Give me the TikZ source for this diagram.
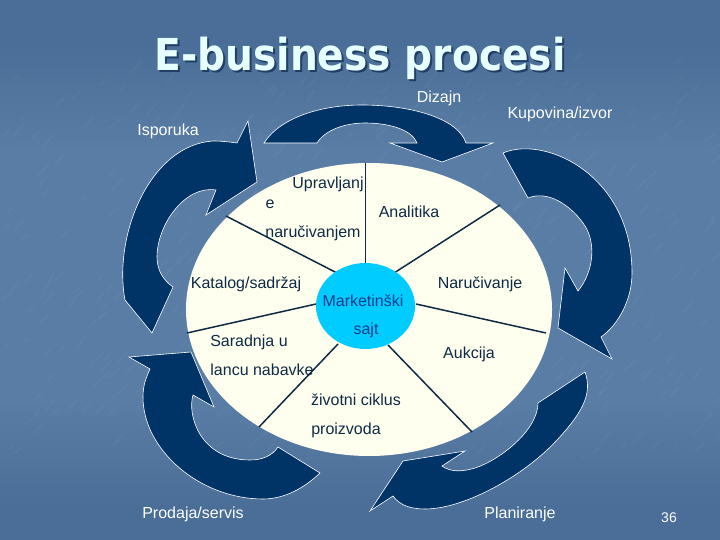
\documentclass[tikz,border=0pt]{standalone}
\usepackage{fontspec}
\usetikzlibrary{shapes.geometric}
\setmainfont{Liberation Sans}
\newfontfamily\titlefont[FakeStretch=0.89]{DejaVu Sans}
\definecolor{navy}{HTML}{003366}
\definecolor{cream}{HTML}{FFFFF0}
\definecolor{hub}{HTML}{00CCFF}
\definecolor{inktext}{HTML}{0F2A45}
\definecolor{hubtext}{HTML}{0B3C8C}
\definecolor{titlecol}{HTML}{E6FFFF}
\definecolor{titleshade}{HTML}{1F3F66}
\definecolor{bgdark}{HTML}{4A6E97}
\definecolor{bgmid}{HTML}{5A7DA5}
\pgfdeclareverticalshading{slidebg}{100bp}{
  color(0bp)=(bgdark);
  color(28bp)=(bgdark);
  color(38bp)=(bgmid);
  color(61bp)=(bgmid);
  color(71bp)=(bgdark);
  color(100bp)=(bgdark)}
\tikzset{
  flow/.style={fill=navy,draw=white,line width=0.6pt,line join=miter},
  spoke/.style={draw=inktext,line width=1.5pt},
  lbl/.style={anchor=base,inner sep=0pt,font=\fontsize{16}{16}\selectfont},
  outer/.style={lbl,text=white},
  inner/.style={lbl,text=inktext},
  hubl/.style={lbl,text=hubtext},
  titletext/.style={anchor=base,inner sep=0pt,font=\titlefont\bfseries\fontsize{44}{44}\selectfont}
}
\begin{document}
\begin{tikzpicture}[x=1pt,y=-1pt]
\useasboundingbox (0,0) rectangle (720,540);
\path[shading=slidebg,shading angle=0] (0,0) rectangle (720,540);
% background grain
\pgfmathsetseed{7}
\begin{scope}
\clip (0,0) rectangle (720,540);
\foreach \k in {1,...,500} {
  \pgfmathsetmacro{\gx}{720*rnd}
  \pgfmathsetmacro{\gy}{60+400*rnd}
  \pgfmathsetmacro{\gl}{5+12*rnd}
  \pgfmathsetmacro{\ga}{-58+22*rnd}
  \draw[white,opacity=0.03,line width=1.6pt,line cap=round] (\gx,\gy) -- ++(\ga:\gl);
}
\end{scope}
% disc and hub
\node[ellipse,draw=none,fill=cream,minimum width=366pt,minimum height=293pt,inner sep=0pt,at={(369,309.5)}] (disc) {};
% spokes
\coordinate (s1) at (365,163);
\coordinate (s2) at (500,205);
\coordinate (s3) at (546,333);
\coordinate (s4) at (472,432);
\coordinate (s5) at (259,427);
\coordinate (s6) at (187,333);
\coordinate (s7) at (226,216);
\coordinate (h1) at (365,264);
\coordinate (h2) at (394,273);
\coordinate (h3) at (416,304);
\coordinate (h4) at (388,345);
\coordinate (h5) at (338,344);
\coordinate (h6) at (316,304);
\coordinate (h7) at (337,273);
\draw[draw=inktext,line width=1pt] (s1) -- (h1);
\foreach \i in {2,...,7} {\draw[spoke] (s\i) -- (h\i);}
\node[ellipse,fill=hub,minimum width=99pt,minimum height=86pt,inner sep=0pt,at={(365.5,306)}] (hubnode) {};
% flow arrows
\draw[flow] (264,143) .. controls (280,118) and (320,105) .. (362,105)
  .. controls (410,105) and (458,118) .. (466,143)
  -- (493,143) -- (442,162) -- (390,143) -- (417,143)
  .. controls (412,130) and (390,123) .. (365,123)
  .. controls (345,123) and (325,130) .. (317,143) -- cycle;
\draw[flow] (503,153) .. controls (545,135) and (632,175) .. (632,273)
  .. controls (632,300) and (618,325) .. (601,337)
  -- (612,359) -- (558,328) -- (565,268) -- (578,291)
  .. controls (595,270) and (596,240) .. (583,223)
  .. controls (570,205) and (548,190) .. (528,198) -- cycle;
\draw[flow] (585,372) .. controls (592,392) and (585,410) .. (557,440)
  .. controls (525,475) and (465,509) .. (425,509)
  .. controls (412,509) and (400,506) .. (393,496)
  -- (370,511) -- (403,461) -- (465,451) -- (442,466)
  .. controls (450,472) and (462,472) .. (475,468)
  .. controls (500,460) and (538,430) .. (538,403) -- cycle;
\draw[flow] (320,473) .. controls (300,492) and (280,499) .. (263,499)
  .. controls (200,499) and (143,450) .. (143,397)
  .. controls (143,385) and (146,378) .. (150,369)
  -- (129,357) -- (191,352) -- (214,407) -- (193,395)
  .. controls (187,415) and (200,460) .. (250,460)
  .. controls (262,460) and (272,456) .. (278,447) -- cycle;
\draw[flow] (248,121) -- (257,182) -- (206,215) -- (216,190)
  .. controls (185,185) and (157,225) .. (157,257)
  .. controls (157,270) and (163,280) .. (173,287)
  -- (152,333) -- (125,300)
  .. controls (113,235) and (150,145) .. (213,141)
  .. controls (222,141) and (230,142) .. (237,143) -- cycle;
% title
\node[titletext,text=titleshade] (titleshadow) at (362,72.5) {E-business procesi};
\node[titletext,text=titlecol] (title) at (360,70.5) {E-business procesi};
% labels
\node[outer] (l1) at (439,103) {Dizajn};
\node[outer] (l2) at (560,119) {Kupovina/izvor};
\node[outer] (l3) at (168,136) {Isporuka};
\node[outer] (l4) at (193,518) {Prodaja/servis};
\node[outer] (l5) at (520,518) {Planiranje};
\node[outer,font=\fontsize{14}{14}\selectfont] (l6) at (669,522) {36};
\node[inner] (a1) at (328,189) {Upravljanj};
\node[inner] (a2) at (270,208) {e};
\node[inner] (a3) at (313,237) {naručivanjem};
\node[inner] (a4) at (409,218) {Analitika};
\node[inner] (a5) at (246,288) {Katalog/sadržaj};
\node[inner] (a6) at (480,288) {Naručivanje};
\node[inner] (a7) at (249,346) {Saradnja u};
\node[inner] (a8) at (262,375) {lancu nabavke};
\node[inner] (a9) at (469,358) {Aukcija};
\node[inner] (a10) at (356,405) {životni ciklus};
\node[inner] (a11) at (346,434) {proizvoda};
\node[hubl] (b1) at (363,306) {Marketinški};
\node[hubl] (b2) at (366,334) {sajt};
\end{tikzpicture}
\end{document}
